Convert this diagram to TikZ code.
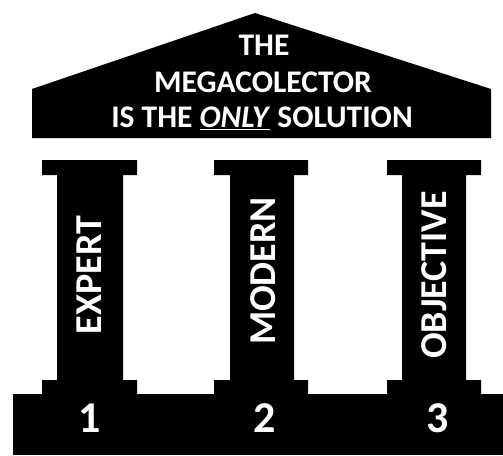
\documentclass[tikz,border=0pt]{standalone}
\usepackage{fontspec}
\setmainfont{Carlito}
\begin{document}
\begin{tikzpicture}[x=1pt,y=-1pt,
  solid/.style={fill=black,draw=none},
  roofText/.style={text=white,font=\bfseries\fontsize{31.5}{36}\selectfont,align=center},
  pillarText/.style={text=white,font=\bfseries\fontsize{38}{40}\selectfont,rotate=90,inner sep=0pt},
  numText/.style={text=white,font=\bfseries\fontsize{44}{48}\selectfont,inner sep=0pt}]
\useasboundingbox (0,0) rectangle (503,455);
% roof
\fill[solid] (32,138) -- (32,89) -- (255,13) -- (491,89) -- (491,138) -- cycle;
% foundation
\fill[solid] (13,394) rectangle (503,455);
% columns
\foreach \cl/\cr/\sl/\sr in {42/137/57/123, 214/308/230/294, 387/481/402/466}{
  \fill[solid] (\cl,160) -- (\cr,160) -- (\cr,175) -- (\sr,175) -- (\sr,380)
    -- (\cr,380) -- (\cr,395) -- (\cl,395) -- (\cl,380) -- (\sl,380) -- (\sl,175) -- (\cl,175) -- cycle;
}
\node[roofText] (t1) at (264,45) {THE};
\node[roofText] (t2) at (263,82) {MEGACOLECTOR};
\node[roofText] (t3) at (262,118) {IS THE \underline{\textit{ONLY}} SOLUTION};
\node[pillarText] (p1) at (89,275) {EXPERT};
\node[pillarText] (p2) at (263,271) {MODERN};
\node[pillarText] (p3) at (434,275) {OBJECTIVE};
\node[numText] (n1) at (90,418) {1};
\node[numText] (n2) at (265,418) {2};
\node[numText] (n3) at (438,418) {3};
\end{tikzpicture}
\end{document}
